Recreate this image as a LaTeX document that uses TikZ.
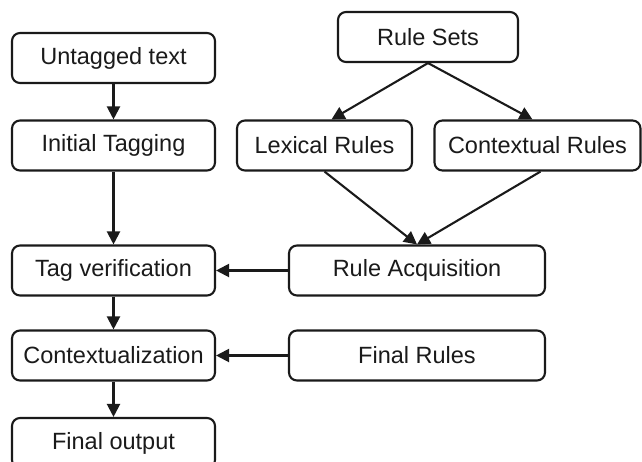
\documentclass[tikz,border=0pt]{standalone}
\usepackage{fontspec}
\setmainfont{Liberation Sans}
\usetikzlibrary{arrows.meta}
\definecolor{ink}{HTML}{1A1A1A}
\begin{document}
\begin{tikzpicture}[x=1pt,y=-1pt,
  box/.style={draw=ink, line width=2.1pt, rounded corners=8pt, fill=white,
    text=ink, font=\fontsize{23.5}{26}\selectfont, inner sep=0pt,
    minimum height=50pt},
  flow/.style={draw=ink, line width=2.1pt,
    -{Triangle[length=13pt,width=13pt]}}]
\useasboundingbox (0,0) rectangle (642,461);
\clip (0,0) rectangle (642,461);

% left column: processing chain
\node[box, minimum width=203pt] (ut) at (113.5,58)    {Untagged text};
\node[box, minimum width=203pt] (it) at (113.5,145.5) {Initial Tagging};
\node[box, minimum width=203pt] (tv) at (113.5,270.5) {Tag verification};
\node[box, minimum width=203pt] (cz) at (113.5,355.5) {Contextualization};
\node[box, minimum width=203pt] (fo) at (113.5,443)   {Final output};

% right side: rules
\node[box, minimum width=180pt] (rs) at (428,37)      {Rule Sets};
\node[box, minimum width=175pt] (lr) at (324.5,145.5) {Lexical Rules};
\node[box, minimum width=206pt] (cr) at (537.5,145.5) {Contextual Rules};
\node[box, minimum width=256pt] (ra) at (417,270.5)   {Rule Acquisition};
\node[box, minimum width=256pt] (fr) at (417,355.5)   {Final Rules};

% vertical chain
\draw[flow] (ut.south) -- (it.north);
\draw[flow] (it.south) -- (tv.north);
\draw[flow] (tv.south) -- (cz.north);
\draw[flow] (cz.south) -- (fo.north);

% rule sets split
\draw[flow] (rs.south) -- ([xshift=7pt]lr.north);
\draw[flow] (rs.south) -- ([xshift=-5pt]cr.north);

% merge into acquisition
\draw[flow] (lr.south) -- (ra.north);
\draw[flow] ([xshift=3pt]cr.south) -- (ra.north);

% rules feed back into the chain
\draw[flow] (ra.west) -- (tv.east);
\draw[flow] (fr.west) -- (cz.east);
\end{tikzpicture}
\end{document}
